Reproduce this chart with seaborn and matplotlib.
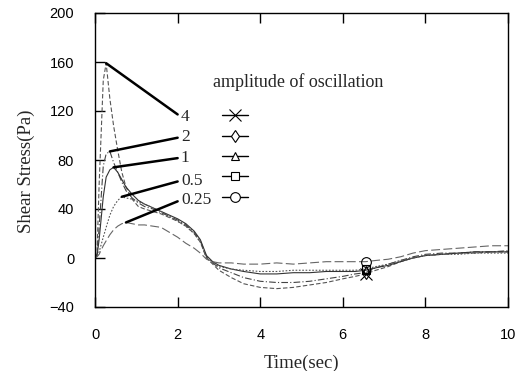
import matplotlib
matplotlib.use("Agg")
import matplotlib.pyplot as plt
from matplotlib.lines import Line2D
import numpy as np
import pandas as pd
import seaborn as sns

# ---------------- data ----------------
time_sec = [0, 0.05, 0.1, 0.2, 0.27, 0.36, 0.45, 0.55, 0.65, 0.75, 0.9, 1.05, 1.2,
            1.4, 1.6, 1.8, 2.0, 2.2, 2.4, 2.55, 2.7, 2.85, 3.0, 3.3, 3.6, 4.0, 4.4,
            4.8, 5.2, 5.6, 6.0, 6.3, 6.55, 6.8, 7.1, 7.4, 7.7, 8.0, 8.4, 8.8, 9.2,
            9.6, 10.0]

stress_amp4 = [0, 5, 60, 145, 159, 130, 108, 88, 70, 58, 48, 42, 40,
               38, 36, 33, 30, 26, 20, 13, 0, -5, -10, -16, -21, -24, -25,
               -24, -22, -20, -17, -15, -13, -10, -7, -3, 0, 2, 3, 4, 4,
               5, 5]
stress_amp2 = [0, 3, 25, 75, 85, 87, 78, 70, 62, 55, 49, 45, 42,
               40, 37, 34, 31, 27, 21, 14, 1, -4, -8, -12, -16, -19, -20,
               -20, -19, -17, -15, -13, -12, -8, -5, -2, 1, 3, 4, 4, 5,
               5, 6]
stress_amp1 = [0, 2, 15, 50, 66, 72, 74, 70, 64, 58, 52, 47, 44,
               41, 38, 35, 32, 28, 22, 15, 2, -3, -6, -9, -11, -13, -13,
               -12, -12, -11, -11, -11, -10, -8, -6, -3, 0, 2, 3, 4, 5,
               5, 5]
stress_amp05 = [0, 1, 5, 17, 25, 35, 42, 47, 50, 49, 48, 46, 44,
                41, 38, 34, 30, 26, 20, 13, 0, -4, -7, -9, -10, -11, -11,
                -10, -10, -10, -10, -10, -9, -7, -5, -2, 0, 2, 3, 3, 4,
                4, 4]
stress_amp025 = [0, 1, 3, 10, 14, 19, 23, 26, 28, 29, 28, 27, 27,
                 26, 25, 21, 17, 12, 8, 4, -1, -3, -4, -4, -5, -5, -4,
                 -5, -4, -3, -3, -3, -3, -2, -1, 1, 4, 6, 7, 8, 9,
                 10, 10]

amplitude_labels = ["4", "2", "1", "0.5", "0.25"]
legend_title = "amplitude of oscillation"
x_ticks = [0, 2, 4, 6, 8, 10]
y_ticks = [-40, 0, 40, 80, 120, 160, 200]
marker_time = 6.55

series = [stress_amp4, stress_amp2, stress_amp1, stress_amp05, stress_amp025]

# ---------------- styles ----------------
markers = ["x", "d", "^", "s", "o"]
marker_sizes = [8, 6, 6, 6, 7]
linestyles = [(0, (4, 2)), (0, (6, 2, 1, 2)), "-", (0, (1.5, 1.5)), (0, (8, 3))]
colors = ["#555555", "#444444", "#333333", "#555555", "#666666"]
label_pos_y = [0.647, 0.578, 0.508, 0.430, 0.364]

sns.set_theme(style="white")
plt.rcParams["font.family"] = ["Liberation Sans", "DejaVu Sans"]

W, H = 521, 371
fig = plt.figure(figsize=(W / 100, H / 100), dpi=100)
ax = fig.add_axes([95 / W, 1 - 307 / H, 413 / W, 294 / H])

mark_idx = time_sec.index(marker_time)
for vals, mk, ms, ls, c in zip(series, markers, marker_sizes, linestyles, colors):
    df = pd.DataFrame({"time": time_sec, "stress": vals})
    sns.lineplot(data=df, x="time", y="stress", ax=ax, errorbar=None,
                 color=c, linewidth=0.8, linestyle=ls,
                 marker=mk, markevery=[mark_idx], markersize=ms,
                 markerfacecolor="none", markeredgecolor="black",
                 markeredgewidth=0.8)

ax.set_xlim(0, 10)
ax.set_ylim(-40, 200)
ax.set_xticks(x_ticks)
ax.set_yticks(y_ticks)
ax.tick_params(direction="in", length=7, width=1, top=True, right=False,
               bottom=True, left=True, pad=15, labelsize=10.5,
               colors="black")
for sp in ax.spines.values():
    sp.set_visible(True)
    sp.set_color("black")
    sp.set_linewidth(1.0)

ax.set_xlabel("Time(sec)", family="Liberation Serif", fontsize=13.5)
ax.set_ylabel("Shear Stress(Pa)", family="Liberation Serif", fontsize=13.5)
ax.xaxis.set_label_coords(0.5, -0.163)
ax.yaxis.set_label_coords(-0.145, 0.463)

ax.text(0.286, 0.765, legend_title, transform=ax.transAxes,
        family="Liberation Serif", fontsize=13, ha="left", va="center")

for lab, vals, ly in zip(amplitude_labels, series, label_pos_y):
    k = int(np.argmax(vals))
    ax.annotate(lab, xy=(time_sec[k], vals[k]), xycoords="data",
                xytext=(0.208, ly), textcoords="axes fraction",
                ha="left", va="center", family="Liberation Serif",
                fontsize=12.5,
                arrowprops=dict(arrowstyle="-", lw=1.8, color="black",
                                relpos=(0, 0.5), shrinkA=0, shrinkB=0))

handles = [Line2D([], [], color="black", lw=1, marker=m, markersize=ms,
                  markerfacecolor="white", markeredgecolor="black",
                  markeredgewidth=0.8) for m, ms in zip(markers, marker_sizes)]
ax.legend(handles, [""] * len(handles), loc="upper left",
          bbox_to_anchor=(0.307, 0.673), frameon=False, handlelength=1.5,
          handletextpad=0, labelspacing=0.3, fontsize=12.5,
          borderpad=0, borderaxespad=0)

fig.savefig("out.png", dpi=100)
